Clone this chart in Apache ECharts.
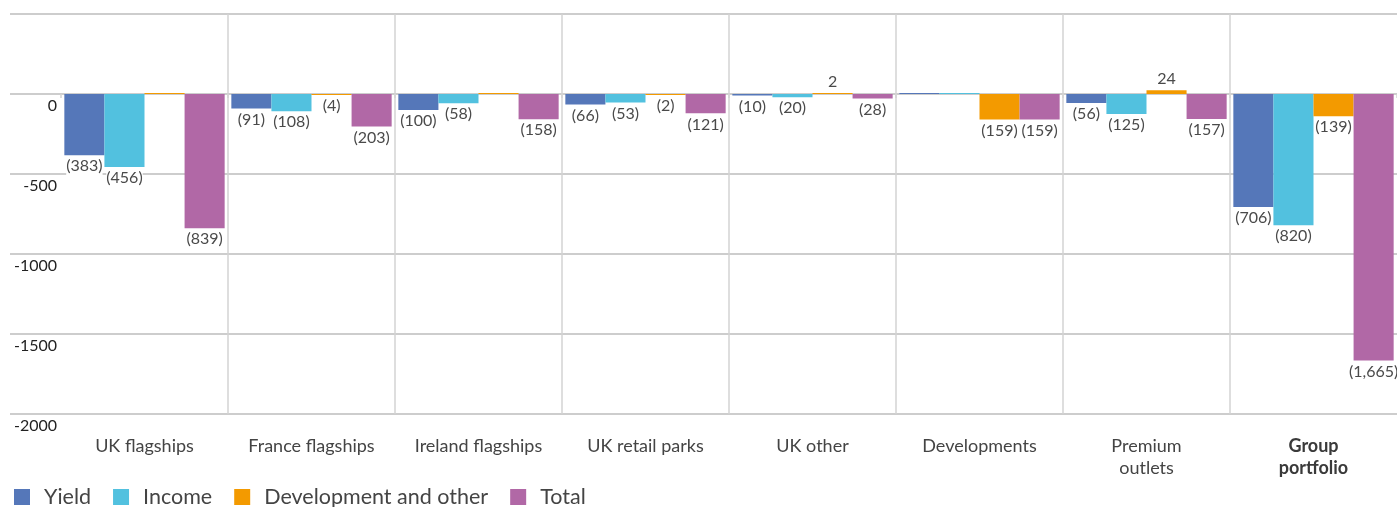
<!DOCTYPE html>
<html>
<head>
<meta charset="utf-8">
<script src="https://cdn.jsdelivr.net/npm/echarts@6/dist/echarts.min.js"></script>
<style>
  html, body { margin: 0; padding: 0; background: #fff; }
  #chart { width: 1397px; height: 507px; }
</style>
</head>
<body>
<div id="chart"></div>
<script>
  // data
  var categories = ['UK flagships', 'France flagships', 'Ireland flagships', 'UK retail parks', 'UK other', 'Developments', 'Premium\noutlets', 'Group\nportfolio'];
  var yieldVals  = [-383, -91, -100, -66, -10, 0, -56, -706];
  var incomeVals = [-456, -108, -58, -53, -20, 0, -125, -820];
  var devVals    = [0, -4, 0, -2, 2, -159, 24, -139];
  var totalVals  = [-839, -203, -158, -121, -28, -159, -157, -1665];
  var seriesNames = ['Yield', 'Income', 'Development and other', 'Total'];
  var colors = ['#5577b9', '#52c1df', '#f39a00', '#b168a6'];

  var fontFamily = 'Lato, "Noto Sans", sans-serif';

  function fmt(v) {
    if (v === 0) return '';
    if (v < 0) return '(' + Math.abs(v).toLocaleString('en-US') + ')';
    return String(v);
  }

  function toItems(arr) {
    return arr.map(function (v) {
      return {
        value: v,
        label: { position: v < 0 ? 'bottom' : 'top' }
      };
    });
  }

  var catData = categories.map(function (c, i) {
    if (i === categories.length - 1) {
      return { value: c, textStyle: { fontWeight: 'bold', color: '#3a3a3a' } };
    }
    return c;
  });

  var chart = echarts.init(document.getElementById('chart'));

  var barSeries = [yieldVals, incomeVals, devVals, totalVals].map(function (arr, i) {
    return {
      name: seriesNames[i],
      type: 'bar',
      xAxisIndex: 0,
      yAxisIndex: 0,
      data: toItems(arr),
      barGap: '0%',
      barCategoryGap: '4%',
      barMinHeight: 1,
      itemStyle: { color: colors[i] },
      label: {
        show: true,
        distance: 2,
        color: '#4a4a4a',
        fontSize: 16,
        fontFamily: fontFamily,
        backgroundColor: '#fff',
        padding: [1, 0, 1, 0],
        formatter: function (p) { return fmt(p.value); }
      },
      z: 3
    };
  });

  var option = {
    animation: false,
    color: colors,
    textStyle: { fontFamily: fontFamily },
    grid: [
      { left: 61, right: 0, top: 14, bottom: 93 },
      { left: 10, right: 0, top: 14, bottom: 93 }
    ],
    legend: {
      left: 9,
      top: 481,
      itemWidth: 16,
      itemHeight: 16,
      itemGap: 22,
      icon: 'rect',
      textStyle: { fontSize: 21.5, color: '#444', fontFamily: fontFamily, padding: [0, 0, 0, 9] },
      data: seriesNames
    },
    xAxis: [
      {
        type: 'category',
        gridIndex: 0,
        data: catData,
        axisLine: { show: false },
        axisTick: { show: true, length: 4, lineStyle: { color: '#d3d3d3', width: 1.5 } },
        splitLine: {
          show: true,
          showMinLine: false,
          showMaxLine: false,
          lineStyle: { color: '#d3d3d3', width: 1.5 }
        },
        axisLabel: {
          interval: 0,
          margin: 21,
          verticalAlign: 'top',
          fontSize: 18,
          lineHeight: 22,
          color: '#444',
          fontFamily: fontFamily
        }
      },
      { type: 'value', gridIndex: 1, show: false, min: 0, max: 1 }
    ],
    yAxis: [
      {
        type: 'value',
        gridIndex: 0,
        min: -2000,
        max: 500,
        interval: 500,
        axisLine: { show: false },
        axisTick: { show: false },
        splitLine: { show: false },
        axisLabel: {
          margin: 4,
          verticalAlign: 'top',
          padding: [4, 0, 0, 0],
          fontSize: 16,
          color: '#222',
          fontFamily: fontFamily,
          formatter: function (v) { return v > 0 ? '' : String(v); }
        }
      },
      {
        type: 'value',
        gridIndex: 1,
        min: -2000,
        max: 500,
        interval: 500,
        axisLine: { show: false },
        axisTick: { show: false },
        axisLabel: { show: false },
        splitLine: { show: true, lineStyle: { color: '#bcbcbc', width: 1.5 } }
      }
    ],
    series: barSeries
  };

  chart.setOption(option);
</script>
</body>
</html>
